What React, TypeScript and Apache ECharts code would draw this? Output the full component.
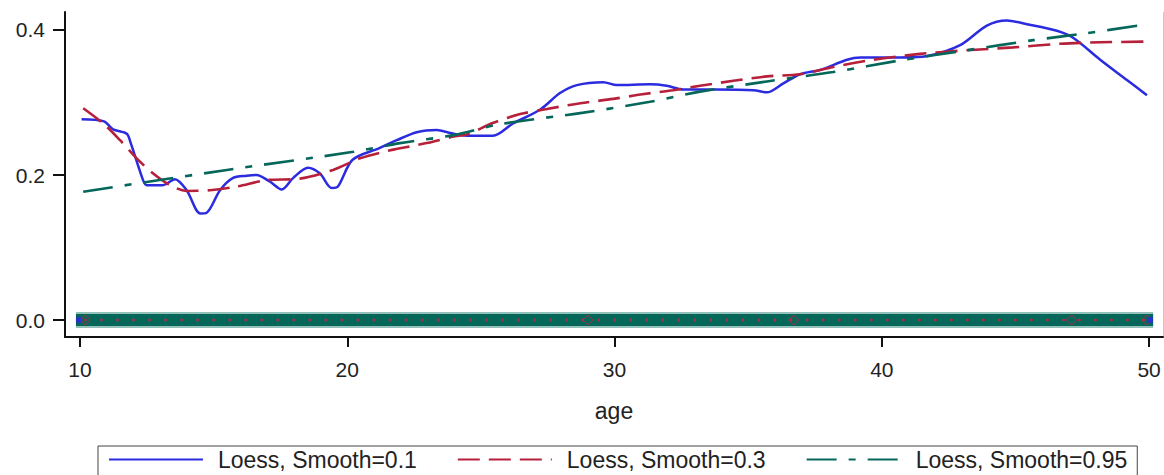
import React, { useEffect, useRef } from "react";
import * as echarts from "echarts";

const xTicks = [10, 20, 30, 40, 50];
const yTicks = [0, 0.2, 0.4];

const blueAge = [10.06, 10.9, 11.24, 11.75, 11.9, 12.36, 12.5, 13.1, 13.55, 13.99, 14.5, 14.74, 15.24, 15.73, 16.24, 16.6, 17.1, 17.55, 17.98, 18.53, 18.98, 19.42, 19.65, 20.2, 21.2, 21.85, 22.6, 23.35, 23.85, 24.48, 25.45, 26.2, 27.21, 27.96, 28.59, 29.58, 30.08, 31.33, 31.95, 32.57, 33.8, 35.2, 35.7, 36.3, 36.94, 37.7, 38.7, 39.2, 40.7, 41.7, 42.93, 43.93, 44.68, 45.43, 46.55, 47.17, 48.17, 49.17, 49.92];
const blueVal = [0.277, 0.274, 0.263, 0.257, 0.244, 0.193, 0.186, 0.186, 0.194, 0.179, 0.147, 0.148, 0.179, 0.196, 0.199, 0.2, 0.191, 0.18, 0.196, 0.21, 0.202, 0.182, 0.184, 0.221, 0.237, 0.248, 0.259, 0.262, 0.258, 0.254, 0.254, 0.271, 0.29, 0.313, 0.324, 0.328, 0.324, 0.325, 0.323, 0.318, 0.318, 0.317, 0.314, 0.326, 0.339, 0.345, 0.359, 0.362, 0.362, 0.364, 0.379, 0.406, 0.413, 0.408, 0.399, 0.389, 0.359, 0.331, 0.31];

const redAge = [10.12, 10.87, 11.5, 12.12, 12.74, 13.37, 13.99, 14.86, 15.86, 16.98, 18.23, 19.47, 20.48, 21.72, 22.97, 23.97, 24.48, 25.47, 26.47, 27.47, 28.72, 29.96, 30.97, 32.2, 33.2, 34.45, 35.7, 36.94, 38.18, 39.68, 41.43, 43.17, 44.92, 46.67, 48.17, 49.92];
const redVal = [0.292, 0.271, 0.248, 0.223, 0.202, 0.186, 0.178, 0.179, 0.184, 0.193, 0.195, 0.207, 0.223, 0.235, 0.244, 0.253, 0.256, 0.272, 0.284, 0.291, 0.299, 0.305, 0.311, 0.317, 0.323, 0.33, 0.336, 0.339, 0.349, 0.359, 0.367, 0.372, 0.376, 0.381, 0.383, 0.384];

const greenAge = [10.12, 15.5, 20.23, 21.97, 23.97, 25.7, 28.84, 31.33, 33.2, 35.7, 38.18, 40.68, 43.17, 45.67, 47.55, 49.92];
const greenVal = [0.177, 0.207, 0.232, 0.244, 0.255, 0.27, 0.286, 0.301, 0.315, 0.329, 0.342, 0.358, 0.372, 0.386, 0.395, 0.408];

// observed ages (outcome 0), plotted at y = 0
const bandAge = [9.85, 50.15];
const obsAge = [10.2, 10.8, 11.4, 12, 12.6, 13.2, 13.8, 14.4, 15, 15.6, 16.2, 16.8, 17.4, 18, 18.6, 19.2, 19.8, 20.4, 21, 21.6, 22.2, 22.8, 23.4, 24, 24.6, 25.2, 25.8, 26.4, 27, 27.6, 28.2, 28.8, 29.4, 30, 30.6, 31.2, 31.8, 32.4, 33, 33.6, 34.2, 34.8, 35.4, 36, 36.6, 37.2, 37.8, 38.4, 39, 39.6, 40.2, 40.8, 41.4, 42, 42.6, 43.2, 43.8, 44.4, 45, 45.6, 46.2, 46.8, 47.4, 48, 48.6, 49.2, 49.8];
const obsDiamondAge = [10.2, 29.0, 36.7, 47.1, 49.9];
const obsBlueAge = [9.95, 50.05];

const FONT = "'Liberation Sans', Arial, sans-serif";

function pairs(xs: number[], ys: number[]) {
  return xs.map((x, i) => [x, ys[i]]);
}

export default function App() {
  const ref = useRef<HTMLDivElement>(null);
  useEffect(() => {
    if (!ref.current) return;
    const chart = echarts.init(ref.current, null, { renderer: "svg" });
    const option: any = {
      animation: false,
      backgroundColor: "#ffffff",
      grid: { left: 65, right: 1, top: 12, bottom: 138, containLabel: false },
      xAxis: {
        type: "value",
        min: 9.44,
        max: 50.52,
        name: "age",
        nameLocation: "middle",
        nameGap: 62,
        nameTextStyle: { fontSize: 23, color: "#222", fontFamily: FONT },
        axisLine: { show: true, onZero: false, lineStyle: { color: "#111", width: 2 } },
        axisTick: { show: true, inside: false, length: 10, lineStyle: { color: "#111", width: 2 }, customValues: xTicks },
        axisLabel: { fontSize: 21, color: "#222", fontFamily: FONT, margin: 22, customValues: xTicks, formatter: (v: number) => String(v) },
        splitLine: { show: false },
      },
      yAxis: {
        type: "value",
        min: -0.0234,
        max: 0.4248,
        axisLine: { show: true, onZero: false, lineStyle: { color: "#111", width: 2 } },
        axisTick: { show: true, inside: false, length: 12, lineStyle: { color: "#111", width: 2 }, customValues: yTicks },
        axisLabel: { fontSize: 21, color: "#222", fontFamily: FONT, margin: 20, customValues: yTicks, formatter: (v: number) => v.toFixed(1) },
        splitLine: { show: false },
      },
      legend: {
        left: 98,
        top: 446,
        orient: "horizontal",
        itemWidth: 94,
        itemHeight: 14,
        itemGap: 40,
        padding: [2, 10, 10, 10],
        borderColor: "#444",
        borderWidth: 1,
        itemStyle: { opacity: 0 },
        textStyle: { fontSize: 23, color: "#222", fontFamily: FONT, padding: [0, 0, 0, 10] },
        data: ["Loess, Smooth=0.1", "Loess, Smooth=0.3", "Loess, Smooth=0.95"],
      },
      graphic: [
        {
          type: "line",
          shape: { x1: 1163.5, y1: 12, x2: 1163.5, y2: 337 },
          style: { stroke: "#c8c8c8", lineWidth: 1 },
        },
      ],
      series: [
        {
          type: "line",
          data: bandAge.map((a) => [a, 0]),
          symbol: "none",
          lineStyle: { color: "#93c1b9", width: 16, cap: "butt" },
          silent: true,
          z: 1,
        },
        {
          type: "line",
          data: bandAge.map((a) => [a, 0]),
          symbol: "none",
          lineStyle: { color: "#05665a", width: 12, cap: "butt" },
          silent: true,
          z: 2,
        },
        {
          type: "scatter",
          data: obsAge.map((a) => [a, 0]),
          symbol: "circle",
          symbolSize: 3,
          itemStyle: { color: "#d02040" },
          silent: true,
          z: 3,
        },
        {
          type: "scatter",
          data: obsDiamondAge.map((a) => [a, 0]),
          symbol: "diamond",
          symbolSize: 10,
          itemStyle: { color: "none", borderColor: "#d02040", borderWidth: 1 },
          silent: true,
          z: 3,
        },
        {
          type: "scatter",
          data: obsBlueAge.map((a) => [a, 0]),
          symbol: "rect",
          symbolSize: [5, 6],
          itemStyle: { color: "#2b2be0" },
          silent: true,
          z: 4,
        },
        {
          name: "Loess, Smooth=0.1",
          type: "line",
          data: pairs(blueAge, blueVal),
          showSymbol: false,
          symbol: "none",
          smooth: 0.3,
          lineStyle: { color: "#2b2be0", width: 2.5 },
          itemStyle: { color: "#2b2be0" },
          z: 5,
        },
        {
          name: "Loess, Smooth=0.3",
          type: "line",
          data: pairs(redAge, redVal),
          showSymbol: false,
          symbol: "none",
          smooth: 0.3,
          lineStyle: { color: "#b7203a", width: 2.6, type: [22, 9] },
          itemStyle: { color: "#b7203a" },
          z: 6,
        },
        {
          name: "Loess, Smooth=0.95",
          type: "line",
          data: pairs(greenAge, greenVal),
          showSymbol: false,
          symbol: "none",
          smooth: 0.3,
          lineStyle: { color: "#05665a", width: 2.6, type: [30, 12, 7, 12] },
          itemStyle: { color: "#05665a" },
          z: 7,
        },
      ],
    };
    chart.setOption(option);
    return () => chart.dispose();
  }, []);
  return <div ref={ref} style={{ position: "fixed", left: 0, top: 0, width: 1164, height: 475 }} />;
}
